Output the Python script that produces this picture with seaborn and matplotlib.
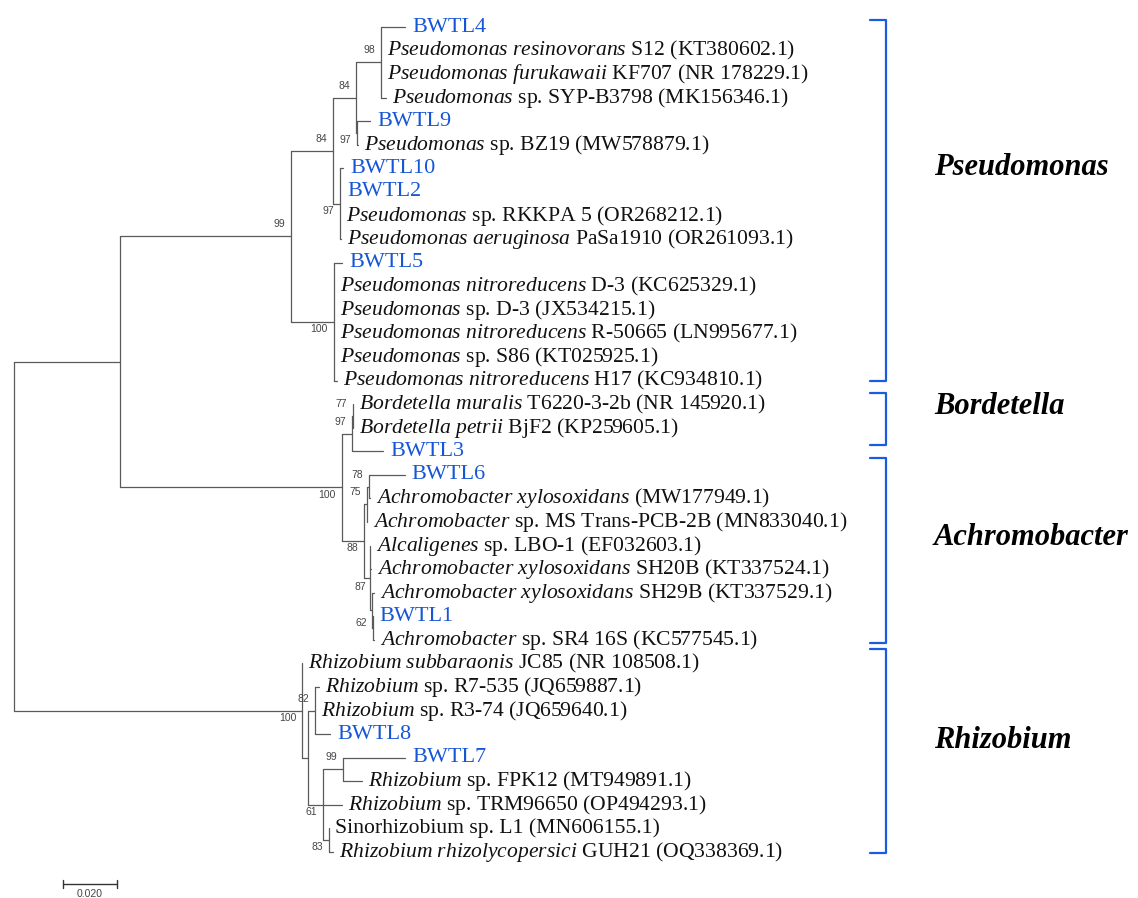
import matplotlib
matplotlib.use("Agg")
import matplotlib.pyplot as plt
import numpy as np
import pandas as pd
import seaborn as sns

# ---------------------------------------------------------------------------
# Tree topology: one entry per edge (child -> parent) with branch length
# in substitutions per site.
# ---------------------------------------------------------------------------
edge_child = [
    "A", "R", "P", "B", "P1", "P2", "P1a", "P1b", "n98", "n97",
    "Bord", "n77", "C", "n75", "n78", "C2", "n87", "n62",
    "Y", "n82", "n61", "n99", "n83",
    "BWTL4", "KT380602.1", "NR178229.1", "MK156346.1", "BWTL9", "MW578879.1",
    "BWTL10", "BWTL2", "OR268212.1", "OR261093.1", "BWTL5", "KC625329.1",
    "JX534215.1", "LN995677.1", "KT025925.1", "KC934810.1",
    "NR145920.1", "KP259605.1", "BWTL3", "BWTL6", "MW177949.1", "MN833040.1",
    "EF032603.1", "KT337524.1", "KT337529.1", "BWTL1", "KC577545.1",
    "NR108508.1", "JQ659887.1", "JQ659640.1", "BWTL8", "BWTL7", "MT949891.1",
    "OP494293.1", "MN606155.1", "OQ338369.1",
]
edge_parent = [
    "root", "root", "A", "A", "P", "P", "P1", "P1", "P1a", "P1a",
    "B", "Bord", "B", "C", "n75", "C", "C2", "n87",
    "R", "Y", "Y", "n61", "n61",
    "n98", "n98", "n98", "n98", "n97", "n97",
    "P1b", "P1b", "P1b", "P1b", "P2", "P2",
    "P2", "P2", "P2", "P2",
    "n77", "n77", "Bord", "n78", "n78", "n75",
    "C2", "C2", "n87", "n62", "n62",
    "R", "n82", "n82", "n82", "n99", "n99",
    "n61", "n83", "n83",
]
edge_length = [
    0.0393, 0.1067, 0.0633, 0.0822, 0.0156, 0.0159, 0.0085, 0.0026, 0.0093, 0.0004,
    0.0037, 0.0004, 0.0081, 0.0011, 0.0007, 0.0022, 0.0007, 0.0004,
    0.0022, 0.0026, 0.0056, 0.0074, 0.0022,
    0.0089, 0.0000, 0.0000, 0.0019, 0.0048, 0.0002,
    0.0011, 0.0000, 0.0000, 0.0002, 0.0030, 0.0000,
    0.0000, 0.0000, 0.0000, 0.0011,
    0.0000, 0.0000, 0.0115, 0.0133, 0.0004, 0.0000,
    0.0000, 0.0004, 0.0007, 0.0000, 0.0004,
    0.0000, 0.0015, 0.0000, 0.0056, 0.0230, 0.0070,
    0.0070, 0.0000, 0.0015,
]

# Bootstrap support (%) of internal nodes
support_node = ["P", "P1", "P1a", "n98", "n97", "P1b", "P2", "B", "Bord", "n77",
                "n78", "n75", "C", "n87", "n62", "R", "n82", "n99", "n61", "n83"]
support_value = [99, 84, 84, 98, 97, 97, 100, 100, 97, 77,
                 78, 75, 88, 87, 62, 100, 82, 99, 61, 83]

# Leaves from top to bottom: italic (taxon) part and plain (strain / accession) part
leaf_ids = [
    "BWTL4", "KT380602.1", "NR178229.1", "MK156346.1", "BWTL9", "MW578879.1",
    "BWTL10", "BWTL2", "OR268212.1", "OR261093.1", "BWTL5", "KC625329.1",
    "JX534215.1", "LN995677.1", "KT025925.1", "KC934810.1", "NR145920.1",
    "KP259605.1", "BWTL3", "BWTL6", "MW177949.1", "MN833040.1", "EF032603.1",
    "KT337524.1", "KT337529.1", "BWTL1", "KC577545.1", "NR108508.1",
    "JQ659887.1", "JQ659640.1", "BWTL8", "BWTL7", "MT949891.1", "OP494293.1",
    "MN606155.1", "OQ338369.1",
]
leaf_italic = [
    "", "Pseudomonas resinovorans", "Pseudomonas furukawaii", "Pseudomonas", "",
    "Pseudomonas", "", "", "Pseudomonas", "Pseudomonas aeruginosa", "",
    "Pseudomonas nitroreducens", "Pseudomonas", "Pseudomonas nitroreducens",
    "Pseudomonas", "Pseudomonas nitroreducens", "Bordetella muralis",
    "Bordetella petrii", "", "", "Achromobacter xylosoxidans", "Achromobacter",
    "Alcaligenes", "Achromobacter xylosoxidans", "Achromobacter xylosoxidans", "",
    "Achromobacter", "Rhizobium subbaraonis", "Rhizobium", "Rhizobium", "", "",
    "Rhizobium", "Rhizobium", "", "Rhizobium rhizolycopersici",
]
leaf_plain = [
    "BWTL4", "S12 (KT380602.1)", "KF707 (NR 178229.1)", "sp. SYP-B3798 (MK156346.1)",
    "BWTL9", "sp. BZ19 (MW578879.1)", "BWTL10", "BWTL2", "sp. RKKPA 5 (OR268212.1)",
    "PaSa1910 (OR261093.1)", "BWTL5", "D-3 (KC625329.1)", "sp. D-3 (JX534215.1)",
    "R-50665 (LN995677.1)", "sp. S86 (KT025925.1)", "H17 (KC934810.1)",
    "T6220-3-2b (NR 145920.1)", "BjF2 (KP259605.1)", "BWTL3", "BWTL6",
    "(MW177949.1)", "sp. MS Trans-PCB-2B (MN833040.1)", "sp. LBO-1 (EF032603.1)",
    "SH20B (KT337524.1)", "SH29B (KT337529.1)", "BWTL1", "sp. SR4 16S (KC577545.1)",
    "JC85 (NR 108508.1)", "sp. R7-535 (JQ659887.1)", "sp. R3-74 (JQ659640.1)",
    "BWTL8", "BWTL7", "sp. FPK12 (MT949891.1)", "sp. TRM96650 (OP494293.1)",
    "Sinorhizobium sp. L1 (MN606155.1)", "GUH21 (OQ338369.1)",
]

# Genus groups marked with brackets
clade_names = ["Pseudomonas", "Bordetella", "Achromobacter", "Rhizobium"]
clade_first = ["BWTL4", "NR145920.1", "BWTL6", "NR108508.1"]
clade_last = ["KC934810.1", "KP259605.1", "KC577545.1", "OQ338369.1"]

scale_bar_length = 0.020

# ---------------------------------------------------------------------------
# Layout / style
# ---------------------------------------------------------------------------
W_PX, H_PX, DPI = 1138, 898, 100
PX_PER_UNIT = 2700.0          # horizontal pixels per substitution/site
ROOT_PX = 14.0                # root position from the left edge
ROW_PX = 23.571               # vertical spacing between leaves
TOP_ROW_PX = 27.0             # centre of first leaf row
PT = 72.0 / DPI               # points per pixel

BRANCH_COLOR = "#5a5a5a"
ISOLATE_COLOR = "#1656d6"
BRACKET_COLOR = "#1a5be0"

# bootstrap label vertical offset (px, + = downwards)
support_dy = {n: -12 for n in support_node}
support_dy.update({"n97": 7, "P1b": 7, "P2": 7, "B": 8, "C": 7, "R": 7,
                   "n61": 7, "n83": 7, "n87": -23, "n62": -5})

bracket_pad_px = [(-7, 0), (-11, 17), (-17, 3), (-14, 1)]
clade_label_dy_px = [-33, -12, -13, -11]
BRACKET_HOOK_PX, BRACKET_BAR_PX, CLADE_LABEL_PX = 870, 886, 934
SCALE_LEFT_PX, SCALE_Y_PX = 63, 884

sns.set_theme(style="white")
plt.rcParams["font.family"] = ["Liberation Serif", "DejaVu Serif"]
plt.rcParams["mathtext.fontset"] = "custom"
plt.rcParams["mathtext.rm"] = "Liberation Serif"
plt.rcParams["mathtext.it"] = "Liberation Serif:italic"
plt.rcParams["mathtext.bf"] = "Liberation Serif:bold"

# ---------------------------------------------------------------------------
# Node coordinates
# ---------------------------------------------------------------------------
parent_of = dict(zip(edge_child, edge_parent))
length_of = dict(zip(edge_child, edge_length))
children = {}
for c, p in zip(edge_child, edge_parent):
    children.setdefault(p, []).append(c)

xpos = {"root": 0.0}


def node_x(n):
    if n not in xpos:
        xpos[n] = node_x(parent_of[n]) + length_of[n]
    return xpos[n]


for n in edge_child:
    node_x(n)

ypos = {leaf: float(i) for i, leaf in enumerate(leaf_ids)}


def node_y(n):
    if n not in ypos:
        ys = [node_y(c) for c in children[n]]
        ypos[n] = (min(ys) + max(ys)) / 2.0
    return ypos[n]


node_y("root")

# Branch segments: horizontal edge + vertical connector of every internal node
rows = []
k = 0
for c in edge_child:
    p = parent_of[c]
    rows += [(k, xpos[p], ypos[c]), (k, xpos[c], ypos[c])]
    k += 1
for n, ch in children.items():
    ys = [ypos[c] for c in ch]
    rows += [(k, xpos[n], min(ys)), (k, xpos[n], max(ys))]
    k += 1
seg = pd.DataFrame(rows, columns=["seg", "x", "y"])

# ---------------------------------------------------------------------------
# Figure
# ---------------------------------------------------------------------------
fig = plt.figure(figsize=(W_PX / DPI, H_PX / DPI), dpi=DPI)
ax = fig.add_axes([0, 0, 1, 1])

sns.lineplot(data=seg, x="x", y="y", units="seg", estimator=None, sort=False,
             color=BRANCH_COLOR, linewidth=0.9, ax=ax, legend=False)

ax.set_xlim(-ROOT_PX / PX_PER_UNIT, (W_PX - ROOT_PX) / PX_PER_UNIT)
ax.set_ylim((H_PX - TOP_ROW_PX) / ROW_PX, -TOP_ROW_PX / ROW_PX)
ax.axis("off")


def px_x(px):
    return (px - ROOT_PX) / PX_PER_UNIT


def px_y(px):
    return (px - TOP_ROW_PX) / ROW_PX


# Leaf labels
for leaf, ital, plain in zip(leaf_ids, leaf_italic, leaf_plain):
    if leaf.startswith("BWTL"):
        ax.annotate(plain, (xpos[leaf], ypos[leaf]), xytext=(7 * PT, 0),
                    textcoords="offset points", ha="left", va="center",
                    fontsize=16, color=ISOLATE_COLOR, family="Liberation Serif")
    else:
        if ital:
            txt = r"$\mathit{" + ital.replace(" ", r"\ ") + "}$ " + plain
        else:
            txt = plain
        ax.annotate(txt, (xpos[leaf], ypos[leaf]), xytext=(6 * PT, 0),
                    textcoords="offset points", ha="left", va="center",
                    fontsize=15.6, color="#111111", family="Liberation Serif")

# Bootstrap values
for n, v in zip(support_node, support_value):
    ax.annotate(str(v), (xpos[n], ypos[n]),
                xytext=(-6 * PT, -support_dy[n] * PT), textcoords="offset points",
                ha="right", va="center", fontsize=7.5, color="#444444",
                family="Liberation Sans")

# Genus brackets and names
for name, first, last, (pt, pb), ldy in zip(clade_names, clade_first, clade_last,
                                             bracket_pad_px, clade_label_dy_px):
    top = ypos[first] + pt / ROW_PX
    bot = ypos[last] + pb / ROW_PX
    br = pd.DataFrame({"x": [px_x(BRACKET_HOOK_PX), px_x(BRACKET_BAR_PX),
                             px_x(BRACKET_BAR_PX), px_x(BRACKET_HOOK_PX)],
                       "y": [top, top, bot, bot]})
    sns.lineplot(data=br, x="x", y="y", sort=False, estimator=None,
                 color=BRACKET_COLOR, linewidth=1.6, ax=ax, legend=False)
    ax.text(px_x(CLADE_LABEL_PX), (top + bot) / 2 + ldy / ROW_PX, name,
            ha="left", va="center", fontsize=22, fontweight="bold",
            fontstyle="italic", family="Liberation Serif", color="#000000")

# Scale bar
sx0 = px_x(SCALE_LEFT_PX)
sx1 = sx0 + scale_bar_length
sy = px_y(SCALE_Y_PX)
tick = 4 / ROW_PX
bar = pd.DataFrame({"seg": [0, 0, 1, 1, 2, 2],
                    "x": [sx0, sx1, sx0, sx0, sx1, sx1],
                    "y": [sy, sy, sy - tick, sy + tick, sy - tick, sy + tick]})
sns.lineplot(data=bar, x="x", y="y", units="seg", estimator=None, sort=False,
             color="#333333", linewidth=1.0, ax=ax, legend=False)
ax.annotate(f"{scale_bar_length:.3f}", ((sx0 + sx1) / 2, sy), xytext=(0, -10 * PT),
            textcoords="offset points", ha="center", va="center", fontsize=7.5,
            color="#444444", family="Liberation Sans")

fig.savefig("out.png", dpi=DPI, facecolor="white")
